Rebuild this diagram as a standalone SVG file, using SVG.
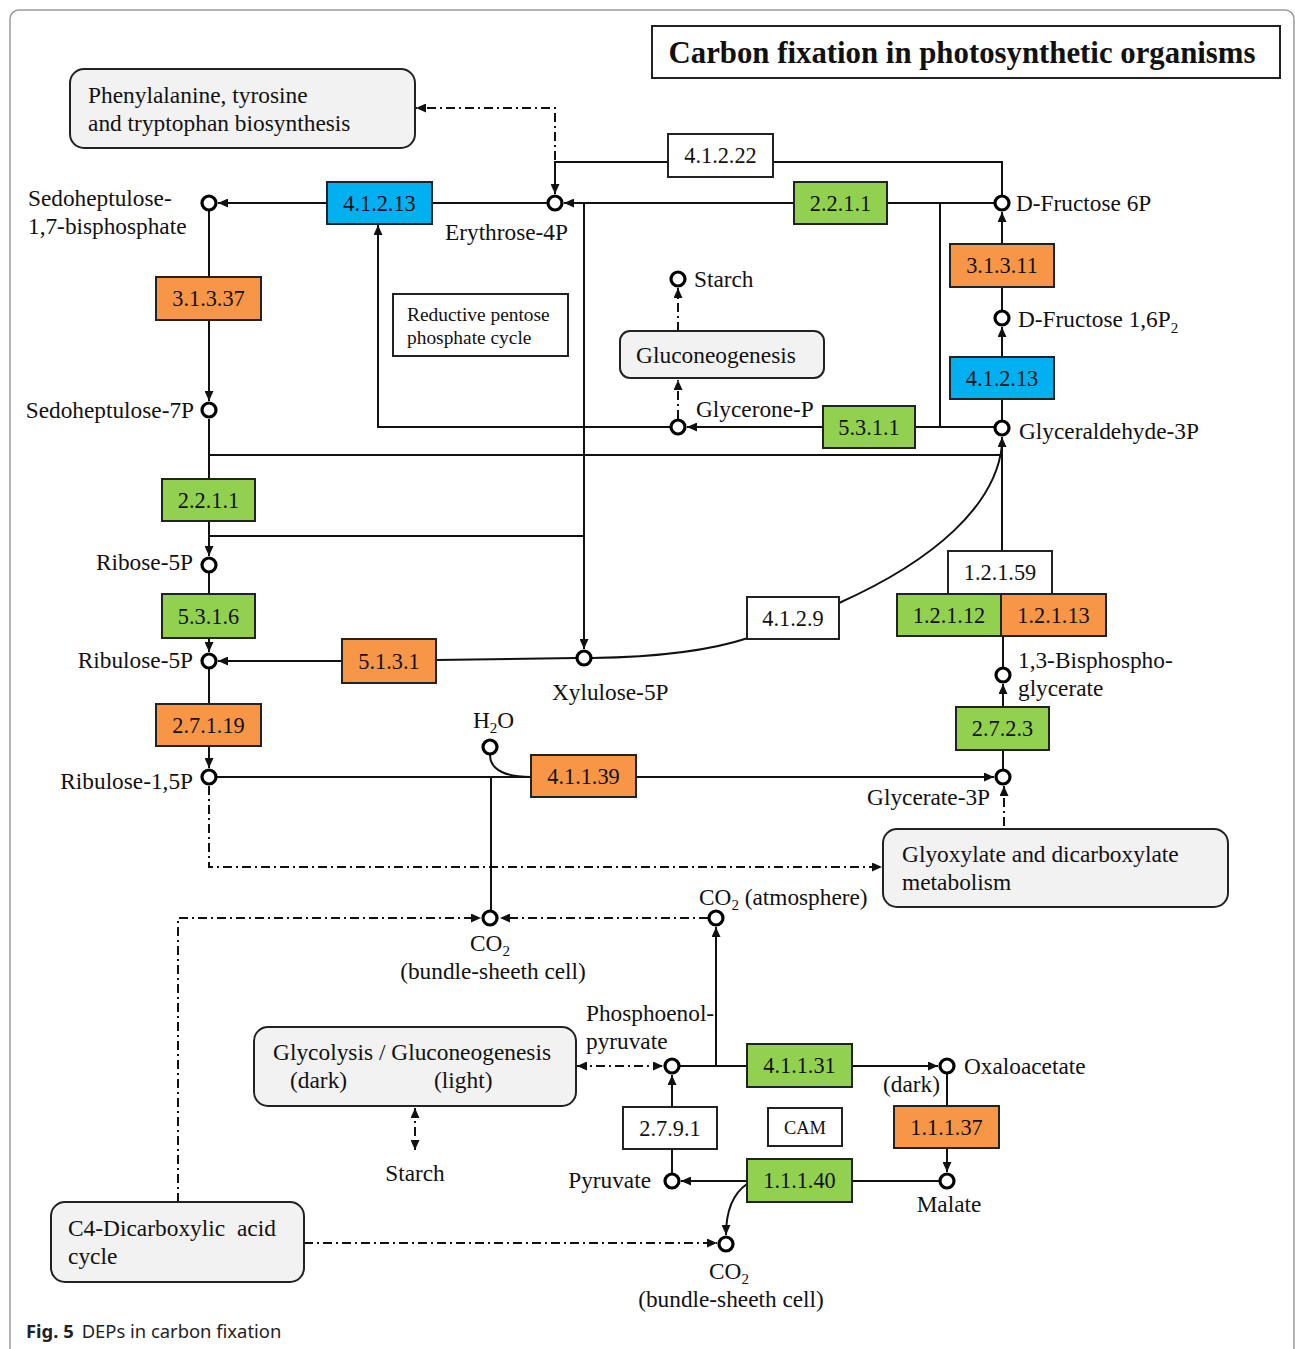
<svg xmlns="http://www.w3.org/2000/svg" width="1295" height="1349" viewBox="0 0 1295 1349">
<defs>
<marker id="arr" markerUnits="userSpaceOnUse" markerWidth="10" markerHeight="9" refX="10" refY="4.5" orient="auto-start-reverse"><path d="M0,0 L10,4.5 L0,9 z" fill="#111"/></marker>
<style>
.t{font-family:"Liberation Serif","Times New Roman",serif;font-size:23.3px;fill:#111}
.tp{font-family:"Liberation Serif","Times New Roman",serif;font-size:23.4px;fill:#111}
.ts{font-family:"Liberation Serif","Times New Roman",serif;font-size:19.4px;fill:#111}
.e{font-family:"Liberation Serif","Times New Roman",serif;font-size:22.3px;fill:#111;text-anchor:middle}
.m{text-anchor:middle}
.r{text-anchor:end}
.box{stroke:#222;stroke-width:2}
.g{fill:#92d050}.o{fill:#f79646}.b{fill:#00b0f0}.w{fill:#fff}
.pw{fill:#f2f2f2;stroke:#222;stroke-width:2}
.c{fill:none;stroke:#111;stroke-width:2}
.d{fill:none;stroke:#111;stroke-width:2;stroke-dasharray:9 4 2 4}
.n{fill:#fff;stroke:#000;stroke-width:3.2}
</style>
</defs>
<rect x="0" y="0" width="1295" height="1349" fill="#fff"/>
<rect x="10" y="10" width="1284" height="1350" rx="9" fill="#fff" stroke="#9a9a9a" stroke-width="1.5"/>

<g id="title"><rect x="652" y="26" width="628" height="52" fill="#fff" stroke="#222" stroke-width="2"/>
<text x="962" y="63" text-anchor="middle" style="font-family:'Liberation Serif','Times New Roman',serif;font-size:30.8px;font-weight:bold;fill:#111">Carbon fixation in photosynthetic organisms</text></g>

<g id="connectors">
<path class="c" d="M1002,196 V162 H773 M668,162 H555 V194" marker-end="url(#arr)"/>
<path class="c" d="M994,203 H887 M794,203 H564" marker-end="url(#arr)"/>
<path class="c" d="M547,203 H432 M327,203 H218" marker-end="url(#arr)"/>
<path class="c" d="M940,203 V427"/>
<path class="c" d="M209,211 V277 M209,320 V401" marker-end="url(#arr)"/>
<path class="c" d="M209,419 V479"/>
<path class="c" d="M209,455 H1002"/>
<path class="c" d="M209,521 V556" marker-end="url(#arr)"/>
<path class="c" d="M209,536 H584"/>
<path class="c" d="M584,203 V649" marker-end="url(#arr)"/>
<path class="c" d="M209,573 V594 M209,638 V652" marker-end="url(#arr)"/>
<path class="c" d="M576,658 L436,660 M342,661 L218,661" marker-end="url(#arr)"/>
<path class="c" d="M209,669 V704 M209,746 V768" marker-end="url(#arr)"/>
<path class="c" d="M217,777 H531 M636,777 H994" marker-end="url(#arr)"/>
<path class="c" d="M490,755 C490,771 508,777 531,777"/>
<path class="c" d="M491,777 V910"/>
<path class="c" d="M592,658 C660,657 712,650 748,638"/>
<path class="c" d="M839,603 C935,560 996,505 1002,445"/>
<path class="c" d="M1002,551 V437" marker-end="url(#arr)"/>
<path class="c" d="M1003,769 V750 M1003,707 V684" marker-end="url(#arr)"/>
<path class="c" d="M1003,667 V636"/>
<path class="c" d="M1002,420 V399 M1002,357 V327" marker-end="url(#arr)"/>
<path class="c" d="M1002,310 V287 M1002,244 V212" marker-end="url(#arr)"/>
<path class="c" d="M994,427 H915 M823,427 H687" marker-end="url(#arr)"/>
<path class="c" d="M670,427 H378 V225" marker-end="url(#arr)"/>
<path class="c" d="M680,1066 H747 M852,1066 H938" marker-end="url(#arr)"/>
<path class="c" d="M716,1066 V927" marker-end="url(#arr)"/>
<path class="c" d="M947,1074 V1106 M947,1148 V1172" marker-end="url(#arr)"/>
<path class="c" d="M939,1181 H852 M747,1181 H681" marker-end="url(#arr)"/>
<path class="c" d="M672,1173 V1149 M672,1107 V1075" marker-end="url(#arr)"/>
<path class="c" d="M747,1184 C731,1195 726,1214 726,1235" marker-end="url(#arr)"/>
<path class="d" d="M555,160 V108 H416" marker-end="url(#arr)"/>
<path class="d" d="M678,331 V288" marker-end="url(#arr)"/>
<path class="d" d="M678,419 V380" marker-end="url(#arr)"/>
<path class="d" d="M209,786 V867 H882" marker-end="url(#arr)"/>
<path class="d" d="M1004,826 V786" marker-end="url(#arr)"/>
<path class="d" d="M178,1202 V918 H481" marker-end="url(#arr)"/>
<path class="d" d="M708,918 H500" marker-end="url(#arr)"/>
<path class="d" d="M577,1066 H663" marker-start="url(#arr)" marker-end="url(#arr)"/>
<path class="d" d="M415,1108 V1150" marker-start="url(#arr)" marker-end="url(#arr)"/>
<path class="d" d="M304,1243 H717" marker-end="url(#arr)"/>
</g>

<g id="phe"><rect class="pw" x="70" y="69" width="345" height="79" rx="14"/><text class="tp" x="88" y="103">Phenylalanine, tyrosine</text><text class="tp" x="88" y="131">and tryptophan biosynthesis</text></g>
<g id="glucon"><rect class="pw" x="620" y="331" width="204" height="47" rx="10"/><text class="tp m" x="716" y="363">Gluconeogenesis</text></g>
<g id="glyox"><rect class="pw" x="883" y="829" width="345" height="78" rx="14"/><text class="tp" x="902" y="862">Glyoxylate and dicarboxylate</text><text class="tp" x="902" y="890">metabolism</text></g>
<g id="glycol"><rect class="pw" x="254" y="1027" width="322" height="79" rx="14"/><text class="tp" x="273" y="1060">Glycolysis / Gluconeogenesis</text><text class="tp" x="290" y="1088">(dark)</text><text class="tp" x="434" y="1088">(light)</text></g>
<g id="c4"><rect class="pw" x="51" y="1202" width="253" height="80" rx="14"/><text class="tp" x="68" y="1236" xml:space="preserve">C4-Dicarboxylic  acid</text><text class="tp" x="68" y="1264">cycle</text></g>
<g id="rppc"><rect x="393" y="294" width="175" height="62" fill="#fff" stroke="#222" stroke-width="2"/><text class="ts" x="407" y="321">Reductive pentose</text><text class="ts" x="407" y="344">phosphate cycle</text></g>

<g id="e4.1.2.13a"><rect class="box b" x="327" y="182" width="105" height="42"/><text class="e" x="379.5" y="211">4.1.2.13</text></g>
<g id="e4.1.2.22"><rect class="box w" x="668" y="134" width="105" height="43"/><text class="e" x="720.5" y="163">4.1.2.22</text></g>
<g id="e2.2.1.1a"><rect class="box g" x="794" y="182" width="93" height="42"/><text class="e" x="840.5" y="211">2.2.1.1</text></g>
<g id="e3.1.3.37"><rect class="box o" x="156" y="277" width="105" height="43"/><text class="e" x="208.5" y="306">3.1.3.37</text></g>
<g id="e3.1.3.11"><rect class="box o" x="950" y="244" width="104" height="43"/><text class="e" x="1002" y="273">3.1.3.11</text></g>
<g id="e4.1.2.13b"><rect class="box b" x="950" y="357" width="104" height="42"/><text class="e" x="1002" y="386">4.1.2.13</text></g>
<g id="e5.3.1.1"><rect class="box g" x="823" y="406" width="92" height="42"/><text class="e" x="869" y="435">5.3.1.1</text></g>
<g id="e2.2.1.1b"><rect class="box g" x="162" y="479" width="93" height="42"/><text class="e" x="208.5" y="508">2.2.1.1</text></g>
<g id="e5.3.1.6"><rect class="box g" x="162" y="594" width="93" height="44"/><text class="e" x="208.5" y="624">5.3.1.6</text></g>
<g id="e5.1.3.1"><rect class="box o" x="342" y="639" width="94" height="44"/><text class="e" x="389" y="669">5.1.3.1</text></g>
<g id="e4.1.2.9"><rect class="box w" x="747" y="597" width="92" height="42"/><text class="e" x="793" y="626">4.1.2.9</text></g>
<g id="e1.2.1.59"><rect class="box w" x="948" y="551" width="104" height="43"/><text class="e" x="1000" y="580">1.2.1.59</text></g>
<g id="e1.2.1.12"><rect class="box g" x="897" y="594" width="104" height="42"/><text class="e" x="949" y="623">1.2.1.12</text></g>
<g id="e1.2.1.13"><rect class="box o" x="1001" y="594" width="105" height="42"/><text class="e" x="1053.5" y="623">1.2.1.13</text></g>
<g id="e2.7.2.3"><rect class="box g" x="956" y="707" width="93" height="43"/><text class="e" x="1002.5" y="736">2.7.2.3</text></g>
<g id="e2.7.1.19"><rect class="box o" x="156" y="704" width="105" height="42"/><text class="e" x="208.5" y="733">2.7.1.19</text></g>
<g id="e4.1.1.39"><rect class="box o" x="531" y="755" width="105" height="42"/><text class="e" x="583.5" y="784">4.1.1.39</text></g>
<g id="e4.1.1.31"><rect class="box g" x="747" y="1044" width="105" height="43"/><text class="e" x="799.5" y="1073">4.1.1.31</text></g>
<g id="e2.7.9.1"><rect class="box w" x="623" y="1107" width="94" height="42"/><text class="e" x="670" y="1136">2.7.9.1</text></g>
<g id="cam"><rect class="box w" x="768" y="1108" width="74" height="38"/><text class="e" x="805" y="1134" style="font-size:18.5px">CAM</text></g>
<g id="e1.1.1.37"><rect class="box o" x="894" y="1106" width="105" height="42"/><text class="e" x="946.5" y="1135">1.1.1.37</text></g>
<g id="e1.1.1.40"><rect class="box g" x="747" y="1159" width="105" height="43"/><text class="e" x="799.5" y="1188">1.1.1.40</text></g>

<g id="n-sedo17"><circle class="n" cx="209" cy="203" r="7"/><text class="t" x="28" y="206">Sedoheptulose-</text><text class="t" x="28" y="234">1,7-bisphosphate</text></g>
<g id="n-ery4p"><circle class="n" cx="555" cy="203" r="7"/><text class="t" x="445" y="240">Erythrose-4P</text></g>
<g id="n-f6p"><circle class="n" cx="1002" cy="203" r="7"/><text class="t" x="1016" y="211">D-Fructose 6P</text></g>
<g id="n-starch1"><circle class="n" cx="678" cy="279" r="7"/><text class="t" x="694" y="287">Starch</text></g>
<g id="n-f16p2"><circle class="n" cx="1002" cy="318" r="7"/><text class="t" x="1018" y="327">D-Fructose 1,6P<tspan font-size="15" dy="6">2</tspan></text></g>
<g id="n-sedo7p"><circle class="n" cx="209" cy="410" r="7"/><text class="t r" x="194" y="418">Sedoheptulose-7P</text></g>
<g id="n-glyceroneP"><circle class="n" cx="678" cy="427" r="7"/><text class="t" x="696" y="417">Glycerone-P</text></g>
<g id="n-g3p"><circle class="n" cx="1002" cy="428" r="7"/><text class="t" x="1019" y="439">Glyceraldehyde-3P</text></g>
<g id="n-ribose5p"><circle class="n" cx="209" cy="565" r="7"/><text class="t r" x="193" y="570">Ribose-5P</text></g>
<g id="n-xylulose5p"><circle class="n" cx="584" cy="658" r="7"/><text class="t" x="552" y="700">Xylulose-5P</text></g>
<g id="n-ribulose5p"><circle class="n" cx="209" cy="661" r="7"/><text class="t r" x="193" y="668">Ribulose-5P</text></g>
<g id="n-bpg"><circle class="n" cx="1003" cy="675" r="7"/><text class="t" x="1018" y="668">1,3-Bisphospho-</text><text class="t" x="1018" y="696">glycerate</text></g>
<g id="n-h2o"><circle class="n" cx="490" cy="747" r="7"/><text class="t" x="473" y="728">H<tspan font-size="15" dy="5">2</tspan><tspan dy="-5">O</tspan></text></g>
<g id="n-rubp"><circle class="n" cx="209" cy="777" r="7"/><text class="t r" x="193" y="789">Ribulose-1,5P</text></g>
<g id="n-g3pa"><circle class="n" cx="1003" cy="777" r="7"/><text class="t r" x="990" y="805">Glycerate-3P</text></g>
<g id="n-co2bs1"><circle class="n" cx="490" cy="918" r="7"/><text class="t m" x="490" y="951">CO<tspan font-size="15" dy="5">2</tspan></text><text class="t m" x="493" y="979">(bundle-sheeth cell)</text></g>
<g id="n-co2atm"><circle class="n" cx="716" cy="918" r="7"/><text class="t" x="699" y="905">CO<tspan font-size="15" dy="5">2</tspan><tspan dy="-5"> (atmosphere)</tspan></text></g>
<g id="n-pep"><circle class="n" cx="672" cy="1066" r="7"/><text class="t" x="586" y="1021">Phosphoenol-</text><text class="t" x="586" y="1049">pyruvate</text></g>
<g id="n-oaa"><circle class="n" cx="947" cy="1066" r="7"/><text class="t" x="964" y="1074">Oxaloacetate</text><text class="t" x="883" y="1092">(dark)</text></g>
<g id="n-starch2"><text class="t m" x="415" y="1181">Starch</text></g>
<g id="n-pyruvate"><circle class="n" cx="672" cy="1181" r="7"/><text class="t r" x="651" y="1188">Pyruvate</text></g>
<g id="n-malate"><circle class="n" cx="947" cy="1181" r="7"/><text class="t m" x="949" y="1212">Malate</text></g>
<g id="n-co2bs2"><circle class="n" cx="726" cy="1244" r="7"/><text class="t m" x="729" y="1279">CO<tspan font-size="15" dy="5">2</tspan></text><text class="t m" x="731" y="1307">(bundle-sheeth cell)</text></g>

<text x="26" y="1338" style="font-family:'Noto Sans','Open Sans',sans-serif;font-size:18.4px;fill:#222"><tspan font-weight="bold">Fig. 5</tspan><tspan dx="8">DEPs in carbon fixation</tspan></text>
</svg>
